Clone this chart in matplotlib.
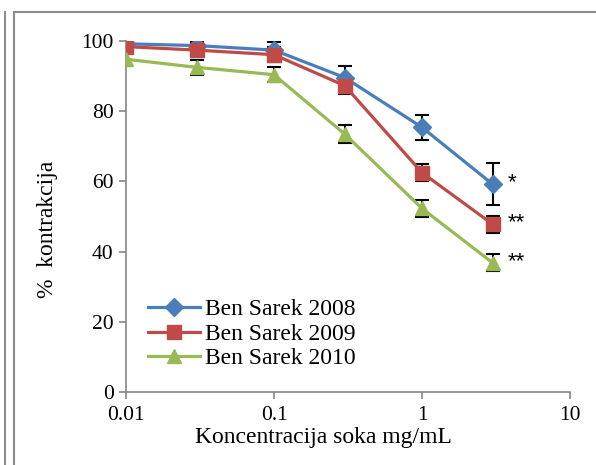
import matplotlib
matplotlib.use("Agg")
import matplotlib.pyplot as plt
from matplotlib.lines import Line2D

conc = [0.01, 0.03, 0.1, 0.3, 1, 3]
labels = ["Ben Sarek 2008", "Ben Sarek 2009", "Ben Sarek 2010"]
y2008 = [99.2, 98.7, 97.4, 89.6, 75.4, 59.2]
e2008 = [1.0, 1.0, 2.2, 3.3, 3.5, 6.0]
y2009 = [98.4, 97.4, 96.1, 87.3, 62.5, 47.8]
e2009 = [1.0, 2.0, 2.2, 2.3, 2.5, 2.4]
y2010 = [94.8, 92.5, 90.4, 73.5, 52.3, 36.8]
e2010 = [2.0, 2.2, 2.2, 2.5, 2.4, 2.4]
sig = ["*", "**", "**"]
ticks_x = [0.01, 0.1, 1, 10]
ticks_x_lab = ["0.01", "0.1", "1", "10"]
ticks_y = [0, 20, 40, 60, 80, 100]

colors = ["#4A7EBB", "#BE4B48", "#98B954"]
markers = ["D", "s", "^"]
msizes = [9, 10, 10]

plt.rcParams['font.family'] = ['Liberation Serif', 'DejaVu Serif']

fig = plt.figure(figsize=(5.96, 4.65), dpi=100)
ax = fig.add_axes([126/596, 1-392/465, 444/596, 351/465])

series = [(y2008, e2008), (y2009, e2009), (y2010, e2010)]
for (ys, es), c, m, ms, lab in zip(series, colors, markers, msizes, labels):
    ax.errorbar(conc, ys, yerr=es, fmt='none', ecolor='black', elinewidth=1.5,
                capsize=5, capthick=1.5, zorder=2)
    ax.plot(conc, ys, color=c, lw=2.3, marker=m, ms=ms, mfc=c, mec=c, zorder=3, label=lab)

for ys, s in zip([y2008, y2009, y2010], sig):
    ax.annotate(s, xy=(conc[-1], ys[-1]), xytext=(11, 1), textcoords='offset points',
                ha='left', va='center', fontsize=16, family=['Liberation Sans'])

ax.set_xscale('log')
ax.set_xlim(0.01, 10)
ax.set_ylim(0, 100)
ax.set_xticks(ticks_x)
ax.set_xticklabels(ticks_x_lab)
ax.minorticks_off()
ax.set_yticks(ticks_y)
for s in ['top', 'right']:
    ax.spines[s].set_visible(False)
for s in ['left', 'bottom']:
    ax.spines[s].set_color('#868686')
    ax.spines[s].set_linewidth(1.2)
ax.tick_params(axis='both', colors='#868686', labelcolor='black', labelsize=15.5,
               length=5, width=1.2, direction='out')
ax.tick_params(axis='x', pad=5)
ax.tick_params(axis='y', pad=4)

fig.text(323/596, 1-437/465, "Koncentracija soka mg/mL", fontsize=17, ha='center', va='center')
fig.text(48/596, 1-229/465, "%  kontrakcija", fontsize=17, ha='center', va='center', rotation=90)

leg = ax.legend(loc='center left', bbox_to_anchor=(22/444, (392-334)/351), frameon=False,
                fontsize=17, handlelength=2.2, handletextpad=0.2, labelspacing=0.12,
                borderpad=0, borderaxespad=0)

# outer frame lines
fig.add_artist(Line2D([5/596, 5/596], [0, 1-12/465], transform=fig.transFigure, color='#8c8c8c', lw=1.5))
fig.add_artist(Line2D([14/596, 14/596], [0, 1-12/465], transform=fig.transFigure, color='#8c8c8c', lw=1.5))
fig.add_artist(Line2D([14/596, 1], [1-12/465, 1-12/465], transform=fig.transFigure, color='#8c8c8c', lw=1.5))

fig.savefig("out.png", dpi=100)
